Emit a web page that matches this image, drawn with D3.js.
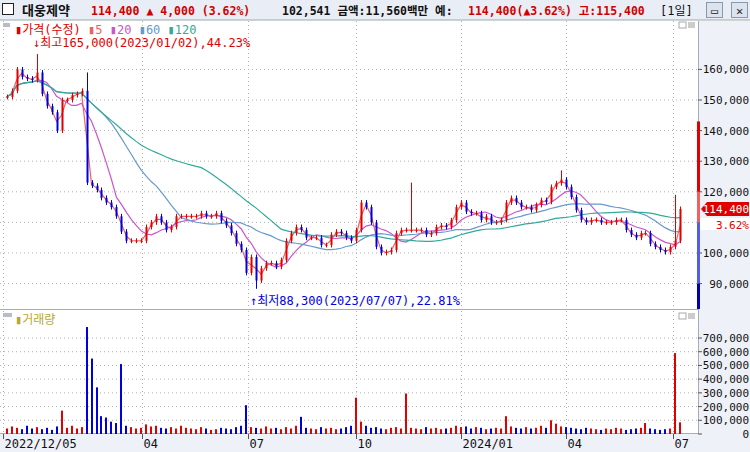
<!DOCTYPE html>
<html><head><meta charset="utf-8">
<script src="https://cdn.jsdelivr.net/npm/d3@7"></script>
<style>
body{margin:0;background:#fff}
text{font-family:"DejaVu Sans Mono","Noto Sans CJK KR",monospace}
</style></head><body>
<svg id="chart" width="750" height="452"></svg>
<script>
// closes (thousand won), one sample every ~4.3 calendar days from 2022/12/08
const closes = [151,153,160,157.5,157,156.5,159,152,148,146,140,150,150,151.6,152,153,123,122,120.6,118,
  116.5,115,112,107,104,104,104,104,108.5,110,112,110,107.5,108.5,112,112,112,112,112,113,
  112,112,113,110.5,109,106.5,103,101,93.5,98.7,91,95,96.7,96.7,95.5,97.7,104,106.5,108.5,107.5,
  105,105,105,102.6,102.6,106,107,106.5,105,104,107.5,116.5,115,110,102,100,100.3,101,106.5,107.5,
  107.5,107.5,107.5,107.5,106,106.5,108.5,109,108.5,110.7,115,116.5,113.5,113,113,110.8,112,110,110,110.8,
  116.5,118,116.5,115,115,114,115.7,117.3,116.7,121.6,122.8,124,121.6,118.3,114,110.8,110,110.8,110.8,110,
  110,110,110.8,110.8,107.5,106,105,106.5,106.5,103,102,101,100.3,102,104,114.4];
// volumes (thousand shares)
const volumes = [40,55,45,35,60,40,50,35,45,30,55,170,45,60,40,50,780,550,340,130,
  120,90,80,510,60,50,40,45,70,55,60,45,40,50,40,60,45,40,35,50,
  40,30,35,45,40,35,50,60,210,50,45,40,55,40,45,35,50,40,60,125,
  45,40,35,50,40,45,35,40,50,60,265,90,60,45,50,40,35,45,50,40,
  295,45,40,35,50,40,45,35,40,45,60,50,55,40,50,45,35,40,45,40,
  130,55,45,40,50,40,45,60,45,100,75,55,50,45,40,35,45,40,35,30,
  40,35,45,40,30,35,40,45,80,40,35,30,35,40,590,85];
// extreme wicks [sample index, price]
const spikeHigh = [[6,165],[16,159],[81,123],[111,127],[134,119]];
const spikeLow = [[50,88.3]];
const priceTicks = [90000,100000,110000,120000,130000,140000,150000,160000];
const volTicks = [0,100000,200000,300000,400000,500000,600000,700000];
const monthTicks = [["2022/12/05","2022-12-05"],["04","2023-04-03"],["07","2023-07-03"],["10","2023-10-04"],
  ["2024/01","2024-01-02"],["04","2024-04-01"],["07","2024-07-01"]];
const maDefs = [[2,"#f06060","5"],[7,"#cc55cc","20"],[20,"#6699cc","60"],[40,"#33aa99","120"]];

const svg = d3.select("#chart");
const W = 750, plotR = 698;
const day = 864e5, start = new Date(2022,11,8).getTime();
const dates = closes.map((c,i)=>new Date(start + i*4.28*day));
const x = d3.scaleTime().domain([new Date(2022,11,4), new Date(2024,6,10)]).range([2,683]);
const y = d3.scaleLinear().domain([100000,160000]).range([253,69.4]);
const yv = d3.scaleLinear().domain([0,700000]).range([434,338]);

const candles = closes.map((c,i)=>{
  const o = i ? closes[i-1] : c;
  let h = Math.max(o,c)+0.8, l = Math.min(o,c)-0.8;
  spikeHigh.forEach(s=>{if(s[0]===i) h=s[1];});
  spikeLow.forEach(s=>{if(s[0]===i) l=s[1];});
  return {d:dates[i], o:o*1000, c:c*1000, h:h*1000, l:l*1000, v:volumes[i]*1000};
});

// backgrounds
svg.append("rect").attr("width",W).attr("height",452).attr("fill","#fff");
svg.append("rect").attr("x",0).attr("y",0).attr("width",W).attr("height",20).attr("fill","#e9edf5");
svg.append("line").attr("x1",0).attr("x2",W).attr("y1",20).attr("y2",20).attr("stroke","#9aa").attr("stroke-width",1);
svg.append("rect").attr("x",plotR+1).attr("y",21).attr("width",W-plotR).attr("height",431).attr("fill","#eef1f8");
svg.append("rect").attr("x",0).attr("y",434).attr("width",W).attr("height",18).attr("fill","#eef1f8");

// grid
const g = svg.append("g").attr("stroke","#b0b0b0").attr("stroke-dasharray","1,3");
priceTicks.forEach(p=>g.append("line").attr("x1",0).attr("x2",plotR).attr("y1",y(p)).attr("y2",y(p)));
volTicks.slice(1).forEach(v=>g.append("line").attr("x1",0).attr("x2",plotR).attr("y1",yv(v)).attr("y2",yv(v)));
monthTicks.forEach(m=>{
  const xx = Math.round(x(new Date(m[1])))+0.5;
  g.append("line").attr("x1",xx).attr("x2",xx).attr("y1",21).attr("y2",308);
  g.append("line").attr("x1",xx).attr("x2",xx).attr("y1",311).attr("y2",434);
});
svg.append("line").attr("x1",0).attr("x2",plotR).attr("y1",309.5).attr("y2",309.5).attr("stroke","#aab");
svg.append("line").attr("x1",plotR+0.5).attr("x2",plotR+0.5).attr("y1",21).attr("y2",434).attr("stroke","#aab");
svg.append("line").attr("x1",0).attr("x2",plotR).attr("y1",433.5).attr("y2",433.5).attr("stroke","#aab");

// moving averages
maDefs.forEach(([n,col])=>{
  const ma = closes.map((c,i)=>{const s=closes.slice(Math.max(0,i-n+1),i+1);return d3.mean(s)*1000;});
  svg.append("path").datum(ma).attr("fill","none").attr("stroke",col).attr("stroke-width",1.2)
    .attr("d",d3.line().x((d,i)=>x(dates[i])).y(d=>y(d)));
});

// candles
const colOf = d=> d.c>=d.o ? "#e00000" : "#0000dd";
const cg = svg.append("g");
cg.selectAll("line").data(candles).join("line")
  .attr("x1",d=>Math.round(x(d.d))+0.5).attr("x2",d=>Math.round(x(d.d))+0.5)
  .attr("y1",d=>y(d.h)).attr("y2",d=>y(d.l)).attr("stroke",colOf).attr("stroke-width",1);
cg.selectAll("rect").data(candles).join("rect")
  .attr("x",d=>Math.round(x(d.d))-0.5).attr("width",2)
  .attr("y",d=>y(Math.max(d.o,d.c))).attr("height",d=>Math.max(1,Math.abs(y(d.o)-y(d.c))))
  .attr("fill",colOf);

// volume bars
svg.append("g").selectAll("rect").data(candles).join("rect")
  .attr("x",d=>Math.round(x(d.d))-1).attr("width",2)
  .attr("y",d=>yv(d.v)).attr("height",d=>yv(0)-yv(d.v)).attr("fill",colOf);

// right axes (110,000 label is covered by the current-price box)
const ax = svg.append("g").attr("font-size",11).attr("fill","#111").attr("text-anchor","end");
priceTicks.forEach(p=>{
  if (p !== 110000) ax.append("text").attr("x",749).attr("y",y(p)+4).text(d3.format(",")(p));
  svg.append("line").attr("x1",plotR).attr("x2",plotR+4).attr("y1",y(p)).attr("y2",y(p)).attr("stroke","#555");
});
volTicks.forEach(v=>{
  ax.append("text").attr("x",749).attr("y",yv(v)+4).text(d3.format(",")(v));
  svg.append("line").attr("x1",plotR).attr("x2",plotR+4).attr("y1",yv(v)).attr("y2",yv(v)).attr("stroke","#555");
});
[[y(143000),y(120000),"#e00000"],[y(120000),y(110000),"#f06060"],[y(110000),y(90000),"#5060e0"],[y(90000),308,"#0000b0"]]
  .forEach(([a,b,c])=>svg.append("rect").attr("x",plotR-1).attr("y",a).attr("width",3).attr("height",b-a).attr("fill",c));
svg.append("rect").attr("x",plotR-1).attr("y",300).attr("width",3).attr("height",9).attr("fill","#0000b0");
const last = candles[candles.length-1];
svg.append("path").attr("d",`M${plotR+3},${y(last.c)} l6,-7 h42 v14 h-42 z`).attr("fill","#e00000");
svg.append("text").attr("x",749).attr("y",y(last.c)+4).attr("font-size",11).attr("fill","#fff").attr("text-anchor","end").text("114,400");
svg.append("rect").attr("x",plotR+2).attr("y",y(last.c)+9).attr("width",50).attr("height",12).attr("fill","#fff");
svg.append("text").attr("x",749).attr("y",y(last.c)+20).attr("font-size",11).attr("fill","#e00000").attr("text-anchor","end").text("3.62%");

// x axis
monthTicks.forEach(m=>{
  const xx = Math.round(x(new Date(m[1])))+0.5;
  svg.append("line").attr("x1",xx).attr("x2",xx).attr("y1",434).attr("y2",439).attr("stroke","#555");
  svg.append("text").attr("x",xx+1).attr("y",448).attr("font-size",12).attr("fill","#111").text(m[0]);
});

// header
svg.append("rect").attr("x",2.5).attr("y",3.5).attr("width",11).attr("height",11).attr("fill","#fff").attr("stroke","#222");
[[22,"#111","대웅제약",13],[91,"#d00000","114,400 ▲ 4,000 (3.62%)",11.5],[282,"#111","102,541 금액:11,560백만 예:",11.5],
 [468,"#d00000","114,400(▲3.62%) 고:115,400",11.5]].forEach(([hx,c,t,fs])=>
  svg.append("text").attr("x",hx).attr("y",15).attr("font-size",fs).attr("font-weight","bold").attr("fill",c).text(t));
svg.append("text").attr("x",660).attr("y",15).attr("font-size",12).attr("fill","#111").text("[1일]");
[[706,"▭"],[731,"✕"]].forEach(([bx,t])=>{
  svg.append("rect").attr("x",bx+0.5).attr("y",2.5).attr("width",16).attr("height",15).attr("fill","#dde3ee").attr("stroke","#8899aa");
  svg.append("text").attr("x",bx+8.5).attr("y",15).attr("font-size",12).attr("font-weight","bold").attr("text-anchor","middle").attr("fill","#222").text(t);
});
[[22],[313]].forEach(([yy])=>{
  svg.append("rect").attr("x",679).attr("y",yy).attr("width",7).attr("height",6).attr("fill","#fff").attr("stroke","#aaa");
  svg.append("rect").attr("x",688).attr("y",yy).attr("width",7).attr("height",6).attr("fill","#ccc");
});

// legends
svg.append("rect").attr("x",3).attr("y",23).attr("width",7).attr("height",4).attr("fill","#b8bcc4");
const lg = svg.append("text").attr("x",15).attr("y",34).attr("font-size",12);
lg.append("tspan").attr("fill","#e00000").text("▮가격(수정) ");
maDefs.forEach(([n,c,l])=>lg.append("tspan").attr("fill",c).text("▮"+l+" "));
svg.append("text").attr("x",33).attr("y",47).attr("font-size",12).attr("fill","#e00000").text("↓최고165,000(2023/01/02),44.23%");
svg.append("text").attr("x",250).attr("y",305).attr("font-size",12).attr("fill","#0000dd").text("↑최저88,300(2023/07/07),22.81%");
svg.append("rect").attr("x",3).attr("y",313).attr("width",9).attr("height",4).attr("fill","#b8bcc4");
svg.append("text").attr("x",15).attr("y",324).attr("font-size",12).attr("fill","#b8a830").text("▮거래량");
</script></body></html>
